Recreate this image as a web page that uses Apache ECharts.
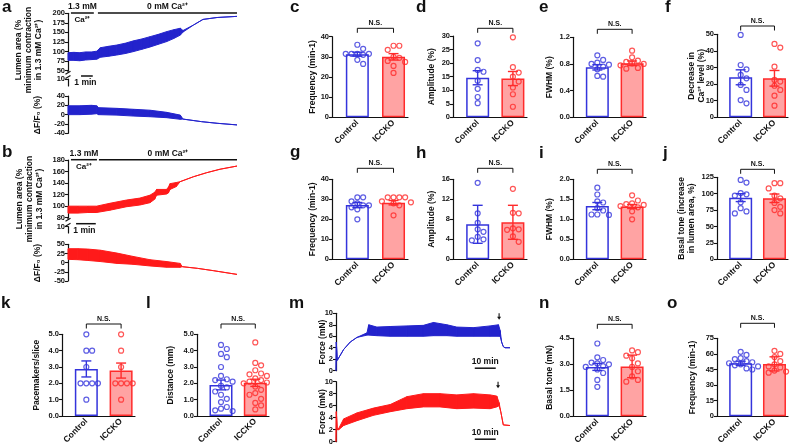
<!DOCTYPE html>
<html><head><meta charset="utf-8">
<script src="https://cdn.jsdelivr.net/npm/echarts@6/dist/echarts.min.js"></script>
<style>html,body{margin:0;padding:0;background:#fff}#c{width:800px;height:447px}</style>
</head><body><div id="c"></div>
<script>
const FONT = '"Liberation Sans", Arial, sans-serif';
const BLUE = '#3434dc', RED = '#ff2b2b', RED_FILL = '#ffa3a3';
const TRACE_BLUE = '#2323cc', TRACE_RED = '#ff1a1a';
const INK = '#111';

// ---------------- DATA ----------------
const groups = ['Control', 'ICCKO'];

// a: lumen area trace (time in min, % min contraction) and ΔF/F0 trace (%)
const aLumenT  = [0, 0.5, 1.0, 1.5, 2.0, 2.45, 2.75, 3.5, 4.16, 4.9, 5.58, 6.3, 7.0, 7.7, 8.4, 9.0, 9.57, 9.8, 10.7, 11.5, 12.7, 14.4];
const aLumenLo = [77, 77, 76, 78, 79, 80, 85, 88, 91, 95, 100, 106, 112, 119, 126, 134, 143, 151, 169.5, 184, 189, 192];
const aLumenHi = [97, 98, 97, 99, 99, 101, 110, 114, 117, 122, 128, 133, 139, 145, 152, 157, 161, 155, 169.5, 184, 189, 192];
const aDfT  = [0, 1.0, 2.0, 2.45, 2.6, 4.16, 5.58, 7.0, 8.4, 9.57, 9.8, 11.37, 12.7, 14.4];
const aDfLo = [0, 0, 1, 2, 0, -1, -3, -4.5, -6.5, -10, -9.5, -15, -18.5, -22];
const aDfHi = [19, 19, 20, 19, 15, 13.5, 11.5, 9.5, 5, -1, -9.5, -15, -18.5, -22];
const aLumenTicks = ['50', '75', '100', '125', '150', '175', '200'];
const aDfTicks = ['-40', '-20', '0', '20', '40'];
const aStimHigh = [0.25, 2.2], aStimZero = [2.55, 14.4];
const aScaleStart = 1.11;

// b
const bLumenT  = [0, 0.5, 1.0, 1.45, 2.13, 2.97, 3.65, 4.16, 4.4, 4.5, 5.0, 5.1, 5.18, 5.5, 5.69, 6.37, 7.04, 7.72, 8.58];
const bLumenLo = [88, 88, 89, 89, 93, 99, 102, 106, 112, 119, 121, 123, 129, 134, 142.4, 151, 158, 164, 169.5];
const bLumenHi = [100, 100, 100, 100, 105, 110.6, 114, 119, 124, 129, 129, 133, 139, 141, 142.4, 151, 158, 164, 169.5];
const bDfT  = [0, 0.5, 1.0, 1.64, 2.49, 3.3, 4.16, 5.0, 5.69, 5.8, 6.57, 7.4, 8.58];
const bDfLo = [9, 8, 6, 3, -2, -4.5, -9, -12.5, -12.7, -11, -15.5, -22, -32];
const bDfHi = [38, 38, 37, 34, 26, 17, 8, 3, -2, -11, -15.5, -22, -32];
const bLumenTicks = ['80', '100', '120', '140', '160', '180'];
const bDfTicks = ['-50', '-25', '0', '25', '50'];
const bStimHigh = [0.15, 1.47], bStimZero = [1.57, 8.58];
const bScaleStart = 0.41;
const breakTicks = ['0', '10'];

// m: force traces (min, mN)
const mCtrlT  = [0, 0.15, 0.6, 3.65, 6.8, 10, 14.8, 15.6, 19.5, 25.9, 33.8, 41.7, 46.5, 52.9, 57.6, 65.6, 73.5, 77.5, 78.3, 79.0, 79.8, 80.6, 83];
const mCtrlLo = [0, 5, 1.8, 3.7, 5.0, 5.8, 6.2, 6.2, 6.1, 6.0, 6.0, 6.0, 6.1, 6.1, 6.0, 6.0, 6.0, 6.0, 6.0, 5.0, 4.2, 4.0, 4.0];
const mCtrlHi = [0, 5, 1.8, 3.7, 5.0, 5.8, 6.6, 8.0, 7.6, 7.7, 7.8, 7.9, 8.4, 8.0, 7.6, 7.5, 7.8, 8.0, 7.0, 5.0, 4.2, 4.0, 4.0];
const mKoT  = [0, 0.15, 0.6, 1.3, 3.65, 10, 17.9, 25.9, 33.8, 41.7, 49.6, 57.6, 65.6, 73.5, 76.7, 77.8, 78.6, 79.8, 83];
const mKoLo = [0, 5, 2.0, 2.0, 2.7, 3.5, 4.4, 5.0, 5.5, 5.8, 5.8, 5.5, 5.6, 5.5, 5.8, 6.0, 5.0, 2.8, 2.7];
const mKoHi = [0, 5, 2.0, 2.2, 3.8, 4.8, 5.6, 6.2, 7.5, 8.0, 8.0, 7.8, 8.0, 7.8, 7.6, 6.5, 5.0, 2.8, 2.7];
const mForceTicks = ['0', '2', '4', '6', '8', '10'];
const mScaleStart = 66.2, mArrowCtrl = 77.8, mArrowKo = 77.3;

// bar panels: means, error, individual points
const cMeans = [31.3, 30.0], cErrs = [1.0, 1.6];
const cControl = [36, 34, 31.5, 31.5, 31.5, 31.5, 31, 28.5, 26.5];
const cICCKO = [35.5, 35.5, 33.5, 30, 29.5, 28, 27.5, 25.5, 22];
const cTicks = ['0', '10', '20', '30', '40'];

const dMeans = [14.6, 14.3], dErrs = [2.6, 2.6];
const dControl = [27.3, 21.1, 17.5, 16.8, 13.5, 10.5, 7.5, 5.2];
const dICCKO = [29.5, 18.5, 16.5, 15, 13.2, 11, 8.5, 3.9];
const dTicks = ['0', '5', '10', '15', '20', '25', '30'];

const eMeans = [0.75, 0.81], eErrs = [0.04, 0.035];
const eControl = [0.93, 0.86, 0.82, 0.8, 0.79, 0.76, 0.72, 0.62, 0.61];
const eICCKO = [1.0, 0.9, 0.85, 0.83, 0.81, 0.8, 0.78, 0.74, 0.73];
const eTicks = ['0.0', '0.4', '0.8', '1.2'];

const fMeans = [24.1, 23.5], fErrs = [4.5, 4.7];
const fControl = [49.6, 31.5, 28.9, 25.5, 23.5, 19.5, 16.5, 10.4, 8.4];
const fICCKO = [44.2, 42, 30.5, 22.5, 21.5, 19, 16.5, 13, 7];
const fTicks = ['0', '10', '20', '30', '40', '50'];

const gMeans = [27.1, 28.3], gErrs = [1.3, 1.1];
const gControl = [31, 31, 29, 28, 27, 27, 26, 25, 20];
const gICCKO = [31, 31, 31, 31, 29, 28.5, 28, 27, 22];
const gTicks = ['0', '10', '20', '30', '40'];

const hMeans = [7.0, 7.4], hErrs = [3.8, 3.4];
const hControl = [15.3, 9.2, 7.3, 6.0, 5.5, 4.5, 4.0, 3.8];
const hICCKO = [14.1, 9.3, 9.2, 6.2, 6.0, 5.9, 4.6, 3.5];
const hTicks = ['0', '4', '8', '12', '16'];

const iMeans = [1.33, 1.32], iErrs = [0.09, 0.05];
const iControl = [1.79, 1.62, 1.45, 1.42, 1.28, 1.22, 1.12, 1.12, 1.11];
const iICCKO = [1.6, 1.47, 1.4, 1.38, 1.36, 1.33, 1.3, 1.2, 1.0];
const iTicks = ['0.0', '0.5', '1.0', '1.5', '2.0'];

const jMeans = [94, 93], jErrs = [6, 6.5];
const jControl = [121, 117, 101, 99, 97, 87, 78, 73, 70];
const jICCKO = [116, 116, 108, 97, 93, 86, 80, 75, 70];
const jTicks = ['0', '25', '50', '75', '100', '125'];

const kMeans = [2.88, 2.78], kErrs = [0.49, 0.46];
const kControl = [5, 4, 4, 3, 2, 2, 2, 2, 1];
const kICCKO = [5, 4, 3, 2, 2, 2, 2, 1];
const kTicks = ['0.0', '1.0', '2.0', '3.0', '4.0', '5.0'];

const lMeans = [1.9, 2.03], lErrs = [0.3, 0.22];
const lControl = [4.35, 4.1, 3.8, 3.6, 3.0, 2.45, 2.25, 2.2, 2.1, 1.85, 1.75, 1.5, 1.3, 1.05, 0.85, 0.55, 0.45, 0.35, 0.3];
const lICCKO = [4.5, 3.25, 3.1, 2.8, 2.6, 2.55, 2.45, 2.3, 2.2, 2.1, 2.05, 2.0, 1.8, 1.6, 1.4, 1.3, 1.05, 0.8, 0.65, 0.4];
const lTicks = ['0.0', '1.0', '2.0', '3.0', '4.0', '5.0'];

const nMeans = [2.85, 2.88], nErrs = [0.2, 0.65];
const nControl = [4.2, 3.4, 3.25, 3.1, 3.05, 3.0, 2.9, 2.85, 2.7, 2.5, 2.1, 1.7];
const nICCKO = [3.8, 3.7, 3.5, 3.35, 3.05, 2.85, 2.6, 2.3, 2.1, 2.0];
const nTicks = ['0.0', '1.5', '3.0', '4.5'];

const oMeans = [51, 50.4], oErrs = [2, 6.8];
const oControl = [62, 59, 56, 55, 53, 52, 51, 50, 49, 48, 46, 45];
const oICCKO = [63, 60, 57, 53, 50, 48, 47, 44, 43, 42];
const oTicks = ['0', '15', '30', '45', '60', '75'];

// ---------------- LAYOUT ----------------
const tickFont = {fontSize: 7.5, fontWeight: 'bold', fontFamily: FONT, color: INK};
const option = {animation: false, grid: [], xAxis: [], yAxis: [], series: []};

function decOf(ticks) { return Math.max.apply(null, ticks.map(t => (t.split('.')[1] || '').length)); }
function addY(ticks, gi) {
  const nums = ticks.map(Number), dec = decOf(ticks);
  option.yAxis.push({
    type: 'value', gridIndex: gi, min: nums[0], max: nums[nums.length - 1], interval: nums[1] - nums[0],
    axisLine: {show: true, onZero: false, lineStyle: {color: INK, width: 1.2}},
    axisTick: {show: true, length: 3, lineStyle: {color: INK, width: 1.1}},
    axisLabel: Object.assign({margin: 3, formatter: v => Number(v).toFixed(dec)}, tickFont),
    splitLine: {show: false}
  });
}
function addGrid(l, t, w, h) { option.grid.push({left: l, top: t, width: w, height: h}); return option.grid.length - 1; }

function bandRender(color, n) {
  return function (params, api) {
    const i = params.dataIndexInside;
    if (i >= n - 1) return null;
    const p1 = api.coord([api.value(0, i), api.value(1, i)]);
    const p2 = api.coord([api.value(0, i + 1), api.value(1, i + 1)]);
    const p3 = api.coord([api.value(0, i + 1), api.value(2, i + 1)]);
    const p4 = api.coord([api.value(0, i), api.value(2, i)]);
    return {type: 'polygon', shape: {points: [p1, p2, p3, p4]}, style: {fill: color, stroke: color, lineWidth: 1}};
  };
}

// trace panels
const traces = [
  {T: aLumenT, lo: aLumenLo, hi: aLumenHi, ticks: aLumenTicks, color: TRACE_BLUE, box: [68, 13.3, 169, 57.4]},
  {ticks: breakTicks, xmax: 14.4, box: [68, 79, 169, 7]},
  {T: aDfT, lo: aDfLo, hi: aDfHi, ticks: aDfTicks, color: TRACE_BLUE, box: [68, 96, 169, 37.3]},
  {T: bLumenT, lo: bLumenLo, hi: bLumenHi, ticks: bLumenTicks, color: TRACE_RED, box: [68, 160, 169, 57.7]},
  {ticks: breakTicks, xmax: 8.58, box: [68, 226.7, 169, 6.3]},
  {T: bDfT, lo: bDfLo, hi: bDfHi, ticks: bDfTicks, color: TRACE_RED, box: [68, 244.3, 169, 36.7]},
  {T: mCtrlT, lo: mCtrlLo, hi: mCtrlHi, ticks: mForceTicks, color: TRACE_BLUE, box: [336, 313.3, 174, 57.4]},
  {T: mKoT, lo: mKoLo, hi: mKoHi, ticks: mForceTicks, color: TRACE_RED, box: [336, 381.7, 174, 60]}
];
traces.forEach(tp => {
  const gi = addGrid.apply(null, tp.box);
  const xmax = tp.T ? tp.T[tp.T.length - 1] : tp.xmax;
  option.xAxis.push({type: 'value', gridIndex: gi, min: 0, max: xmax, show: false});
  addY(tp.ticks, gi);
  tp.gi = gi;
  if (tp.T) {
    option.series.push({
      type: 'custom', xAxisIndex: gi, yAxisIndex: gi, silent: true, clip: false,
      encode: {x: 0, y: [1, 2]},
      renderItem: bandRender(tp.color, tp.T.length),
      data: tp.T.map((t, i) => [t, tp.lo[i], tp.hi[i]])
    });
  }
});

// bar panels
const bars = [
  {id: 'c', means: cMeans, errs: cErrs, ctrl: cControl, ko: cICCKO, ticks: cTicks, title: 'Frequency (min-1)', L: 332, R: 408, T: 36.7, B: 117.3, br: 28.3, tx: 313},
  {id: 'd', means: dMeans, errs: dErrs, ctrl: dControl, ko: dICCKO, ticks: dTicks, title: 'Amplitude (%)', L: 453, R: 527, T: 36, B: 117.3, br: 28.3, tx: 432},
  {id: 'e', means: eMeans, errs: eErrs, ctrl: eControl, ko: eICCKO, ticks: eTicks, title: 'FWHM (%)', L: 573, R: 646, T: 37.3, B: 117.3, br: 29.3, tx: 550},
  {id: 'f', means: fMeans, errs: fErrs, ctrl: fControl, ko: fICCKO, ticks: fTicks, title: 'Decrease in\nCa²⁺ level (%)', L: 717, R: 788, T: 34.3, B: 117.3, br: 26, tx: 697},
  {id: 'g', means: gMeans, errs: gErrs, ctrl: gControl, ko: gICCKO, ticks: gTicks, title: 'Frequency (min-1)', L: 332, R: 408, T: 179.3, B: 259.3, br: 168.3, tx: 313},
  {id: 'h', means: hMeans, errs: hErrs, ctrl: hControl, ko: hICCKO, ticks: hTicks, title: 'Amplitude (%)', L: 453, R: 527, T: 179.3, B: 259.3, br: 168.3, tx: 432},
  {id: 'i', means: iMeans, errs: iErrs, ctrl: iControl, ko: iICCKO, ticks: iTicks, title: 'FWHM (%)', L: 573, R: 646, T: 179.3, B: 259.3, br: 169.3, tx: 550},
  {id: 'j', means: jMeans, errs: jErrs, ctrl: jControl, ko: jICCKO, ticks: jTicks, title: 'Basal tone (increase\nin lumen area, %)', L: 717, R: 788, T: 177.3, B: 259.3, br: 169.3, tx: 687},
  {id: 'k', means: kMeans, errs: kErrs, ctrl: kControl, ko: kICCKO, ticks: kTicks, title: 'Pacemakers/slice', L: 62, R: 135, T: 334.3, B: 416, br: 324, tx: 37},
  {id: 'l', means: lMeans, errs: lErrs, ctrl: lControl, ko: lICCKO, ticks: lTicks, title: 'Distance (mm)', L: 197, R: 269, T: 334.3, B: 416, br: 324, tx: 171},
  {id: 'n', means: nMeans, errs: nErrs, ctrl: nControl, ko: nICCKO, ticks: nTicks, title: 'Basal tone (mN)', L: 573, R: 646, T: 338.3, B: 416.7, br: 324.3, tx: 550},
  {id: 'o', means: oMeans, errs: oErrs, ctrl: oControl, ko: oICCKO, ticks: oTicks, title: 'Frequency (min-1)', L: 717, R: 788, T: 338.3, B: 416.7, br: 323.3, tx: 693}
];
const XMIN = -0.7, XMAX = 1.4, DOT = 5, GAP = 5.8;

function swarm(vals, pxPerUnit) {
  const placed = [], offs = new Array(vals.length);
  const order = vals.map((v, i) => i).sort((a, b) => vals[b] - vals[a]);
  order.forEach(i => {
    const y = vals[i] * pxPerUnit;
    for (let k = 0; k < 60; k++) {
      const off = k === 0 ? 0 : (k % 2 ? 1 : -1) * Math.ceil(k / 2) * GAP;
      if (placed.every(p => Math.hypot(p[0] - off, p[1] - y) >= GAP - 0.01)) { placed.push([off, y]); offs[i] = off; break; }
    }
  });
  return offs;
}

function errRender(params, api) {
  const x = api.value(0), lo = api.value(1), hi = api.value(2);
  const col = params.dataIndex === 0 ? BLUE : RED;
  const top = api.coord([x, hi]), bot = api.coord([x, lo]);
  const hw = 5;
  const st = {stroke: col, lineWidth: 1.4};
  return {type: 'group', children: [
    {type: 'line', shape: {x1: top[0], y1: top[1], x2: bot[0], y2: bot[1]}, style: st},
    {type: 'line', shape: {x1: top[0] - hw, y1: top[1], x2: top[0] + hw, y2: top[1]}, style: st},
    {type: 'line', shape: {x1: bot[0] - hw, y1: bot[1], x2: bot[0] + hw, y2: bot[1]}, style: st}
  ]};
}

bars.forEach(bp => {
  const gi = addGrid(bp.L, bp.T, bp.R - bp.L, bp.B - bp.T);
  bp.gi = gi;
  option.xAxis.push({
    type: 'value', gridIndex: gi, min: XMIN, max: XMAX,
    axisLine: {show: true, onZero: false, lineStyle: {color: INK, width: 1.2}},
    axisTick: {show: false},
    splitLine: {show: false},
    axisLabel: {customValues: [0, 1], rotate: 45, margin: 4, fontSize: 8.5, fontWeight: 'bold', fontFamily: FONT, color: INK,
      formatter: v => groups[Math.round(v)]}
  });
  addY(bp.ticks, gi);
  const nums = bp.ticks.map(Number);
  const ppu = (bp.B - bp.T) / (nums[nums.length - 1] - nums[0]);
  option.series.push({
    type: 'bar', xAxisIndex: gi, yAxisIndex: gi, barWidth: 23, silent: true, z: 2,
    data: [
      {value: [0, bp.means[0]], itemStyle: {color: '#fff', borderColor: BLUE, borderWidth: 1.5}},
      {value: [1, bp.means[1]], itemStyle: {color: RED_FILL, borderColor: RED, borderWidth: 1.5}}
    ]
  });
  [[bp.ctrl, BLUE, 0], [bp.ko, RED, 1]].forEach(([vals, col, g]) => {
    const offs = swarm(vals, ppu);
    option.series.push({
      type: 'scatter', xAxisIndex: gi, yAxisIndex: gi, silent: true, clip: false, z: 3,
      symbol: 'circle', symbolSize: DOT,
      itemStyle: {color: 'rgba(255,255,255,0)', borderColor: col, borderWidth: 1.2},
      data: vals.map((v, i) => ({value: [g, v], symbolOffset: [offs[i], 0]}))
    });
  });
  option.series.push({
    type: 'custom', xAxisIndex: gi, yAxisIndex: gi, silent: true, clip: false, z: 4,
    encode: {x: 0, y: [1, 2]},
    renderItem: errRender,
    data: [0, 1].map(g => [g, bp.means[g] - bp.errs[g], bp.means[g] + bp.errs[g]])
  });
});

const chart = echarts.init(document.getElementById('c'));
chart.setOption(option);

// ---------------- ANNOTATIONS ----------------
const G = [];
const px = (gi, x, y) => chart.convertToPixel({xAxisIndex: gi, yAxisIndex: gi}, [x, y]);
const txt = (text, x, y, size, align, valign, extra) => Object.assign({type: 'text', x, y, silent: true,
  style: {text, align: align || 'center', verticalAlign: valign || 'middle', font: `bold ${size}px ${FONT}`, fill: INK, lineHeight: size + 1.5}}, extra || {});
const line = (x1, y1, x2, y2, w) => ({type: 'line', silent: true, shape: {x1, y1, x2, y2}, style: {stroke: INK, lineWidth: w || 1.2}});
const vtitle = (text, x, y, size) => txt(text, x, y, size || 8.5, 'center', 'middle', {rotation: Math.PI / 2});

// panel letters
[['a', 2, 17], ['b', 2, 162], ['c', 290, 17], ['d', 416, 17], ['e', 539, 17], ['f', 665, 17],
 ['g', 290, 162], ['h', 416, 163], ['i', 539, 163], ['j', 663, 163],
 ['k', 1, 313], ['l', 146, 313], ['m', 289, 313], ['n', 539, 313], ['o', 667, 313]]
  .forEach(([t, x, y]) => G.push(txt(t, x, y, 17, 'left', 'bottom')));

// bar panel titles + N.S. brackets
bars.forEach(bp => {
  G.push(vtitle(bp.title, bp.tx, (bp.T + bp.B) / 2, 8.5));
  const x0 = px(bp.gi, 0, 0)[0], x1 = px(bp.gi, 1, 0)[0];
  G.push({type: 'polyline', silent: true, shape: {points: [[x0, bp.br + 4.5], [x0, bp.br], [x1, bp.br], [x1, bp.br + 4.5]]}, style: {stroke: INK, lineWidth: 1, fill: null}});
  G.push(txt('N.S.', (x0 + x1) / 2, bp.br - 5, 7, 'center', 'middle'));
});

// trace panel titles
G.push(vtitle('Lumen area (%\nminimum contraction\nin 1.3 mM Ca²⁺)', 29, 50, 8.5));
G.push(vtitle('ΔF/F₀ (%)', 38, 115, 8.5));
G.push(vtitle('Lumen area (%\nminimum contraction\nin 1.3 mM Ca²⁺)', 30, 199, 8.5));
G.push(vtitle('ΔF/F₀ (%)', 38, 263, 8.5));
G.push(vtitle('Force (mN)', 323, 342, 8.5));
G.push(vtitle('Force (mN)', 323, 411.7, 8.5));

// axis breaks
[[0, 1], [3, 4]].forEach(([top, mini]) => {
  const tb = px(top, 0, Number(traces[top].ticks[0]));
  const mt = px(mini, 0, 10);
  const ax = tb[0];
  G.push(line(ax, tb[1], ax, tb[1] + 1.5, 1.2));
  G.push(line(ax - 2.5, tb[1] + 3.5, ax + 2.5, tb[1] + 0.5, 1.1));
  G.push(line(ax - 2.5, mt[1] - 0.5, ax + 2.5, mt[1] - 3.5, 1.1));
});

// stimulus bars and time scale bars for a, b
[[0, 1, aStimHigh, aStimZero, aScaleStart], [3, 4, bStimHigh, bStimZero, bScaleStart]].forEach(([gi, mini, s1, s2, sc]) => {
  const yTop = px(gi, 0, Number(traces[gi].ticks[traces[gi].ticks.length - 1]))[1] - 0.3;
  const a1 = px(gi, s1[0], 0)[0], a2 = px(gi, s1[1], 0)[0];
  const b1 = px(gi, s2[0], 0)[0], b2 = px(gi, s2[1], 0)[0];
  G.push(line(a1, yTop, a2, yTop, 1.5));
  G.push(line(b1, yTop, b2, yTop, 1.5));
  G.push(txt('1.3 mM', (a1 + a2) / 2, yTop - 6.5, 8.5));
  G.push(txt('Ca²⁺', (a1 + a2) / 2, yTop + 7, 8));
  G.push(txt('0 mM Ca²⁺', (b1 + b2) / 2, yTop - 6.5, 8.5));
  const m = px(mini, 0, 10);
  const yS = m[1] - 3;
  const c1 = px(gi, sc, 0)[0], c2 = px(gi, sc + 1, 0)[0];
  G.push(line(c1, yS, c2, yS, 1.5));
  G.push(txt('1 min', (c1 + c2) / 2 - 1.5, yS + 6.5, 8.5));
});

// m: scale bars and arrows
[[6, mArrowCtrl], [7, mArrowKo]].forEach(([gi, arr]) => {
  const y0 = px(gi, 0, 0)[1];
  const c1 = px(gi, mScaleStart, 0)[0], c2 = px(gi, mScaleStart + 10, 0)[0];
  G.push(line(c1, y0 - 2.5, c2, y0 - 2.5, 1.5));
  G.push(txt('10 min', (c1 + c2) / 2, y0 - 9, 8.5));
  const ap = px(gi, arr, 9.4);
  G.push(line(ap[0], ap[1] - 3.5, ap[0], ap[1] + 1, 1.1));
  G.push({type: 'polygon', silent: true, shape: {points: [[ap[0] - 2, ap[1]], [ap[0] + 2, ap[1]], [ap[0], ap[1] + 3]]}, style: {fill: INK}});
});

chart.setOption({graphic: G});
</script>
</body></html>
